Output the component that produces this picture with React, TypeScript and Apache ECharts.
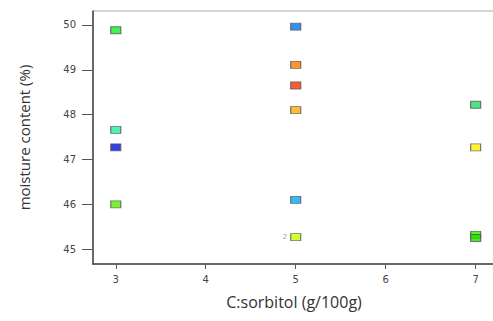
import React, { useEffect, useRef } from "react";
import * as echarts from "echarts";

const xTicks = [3, 4, 5, 6, 7];
const yTicks = [45, 46, 47, 48, 49, 50];
const sorbitol = [3, 3, 3, 3, 5, 5, 5, 5, 5, 5, 7, 7, 7, 7];
const moisture = [49.88, 47.66, 47.27, 46.0, 49.96, 49.11, 48.65, 48.1, 46.1, 45.27, 48.22, 47.27, 45.32, 45.25];
const pointColors = [
  "#11ee22", "#22ee99", "#0011dd", "#55ee00",
  "#0077ee", "#ff7700", "#ff3300", "#ffaa00", "#00aaee", "#ccff00",
  "#22dd66", "#ffee00", "#33ee00", "#22dd00",
];
const pointLabels = ["", "", "", "", "", "", "", "", "", "2", "", "", "", ""];

export default function App() {
  const ref = useRef<HTMLDivElement>(null);
  useEffect(() => {
    document.body.style.margin = "0";
    const chart = echarts.init(ref.current!, null, { renderer: "svg" });
    const data = sorbitol.map((x, i) => ({
      value: [x, moisture[i]],
      itemStyle: { color: pointColors[i] },
      label: pointLabels[i]
        ? { show: true, formatter: pointLabels[i], position: "left", distance: 3, fontSize: 7, color: "#888", fontFamily: "DejaVu Sans" }
        : { show: false },
    }));
    chart.setOption({
      animation: false,
      backgroundColor: "#ffffff",
      grid: {
        left: 93, right: -2, top: 11, bottom: 57,
        outerBoundsMode: "none", containLabel: false,
        show: true, borderColor: "#aaaaaa", borderWidth: 1,
      },
      xAxis: {
        type: "value",
        min: 2.747,
        max: 7.215,
        name: "C:sorbitol (g/100g)",
        nameLocation: "middle",
        nameGap: 30,
        nameTextStyle: { fontFamily: "Open Sans", fontSize: 16, color: "#333" },
        splitLine: { show: false },
        axisLine: { show: true, lineStyle: { color: "#444", width: 1.5 } },
        axisTick: { show: true, length: 5, customValues: xTicks, lineStyle: { color: "#555" } },
        axisLabel: { customValues: xTicks, margin: 10, fontFamily: "DejaVu Sans", fontSize: 10, color: "#444" },
      },
      yAxis: {
        type: "value",
        min: 44.67,
        max: 50.31,
        name: "moisture content (%)",
        nameLocation: "middle",
        nameGap: 62,
        nameTextStyle: { fontFamily: "Open Sans", fontSize: 15, color: "#333" },
        splitLine: { show: false },
        axisLine: { show: true, lineStyle: { color: "#444", width: 1.5 } },
        axisTick: { show: true, length: 11, customValues: yTicks, lineStyle: { color: "#555" } },
        axisLabel: { customValues: yTicks, margin: 17, fontFamily: "DejaVu Sans", fontSize: 10, color: "#444" },
      },
      series: [
        {
          type: "scatter",
          symbol: "rect",
          symbolSize: [10, 7],
          itemStyle: { borderColor: "#555", borderWidth: 1 },
          data,
        },
      ],
    });
    return () => chart.dispose();
  }, []);
  return <div ref={ref} style={{ width: 493, height: 321 }} />;
}
